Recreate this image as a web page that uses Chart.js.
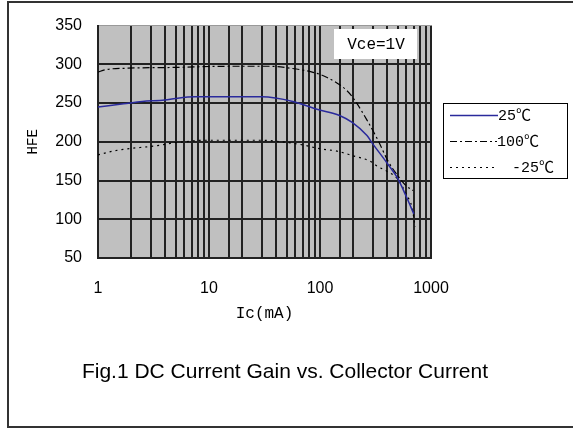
<!DOCTYPE html>
<html>
<head>
<meta charset="utf-8">
<script src="https://cdn.jsdelivr.net/npm/chart.js@4.4.1/dist/chart.umd.min.js"></script>
<style>
  body { margin: 0; background: #fff; }
  #wrap { width: 573px; height: 430px; }
</style>
</head>
<body>
<div id="wrap"><canvas id="myCanvas" width="573" height="430"></canvas></div>
<script>
// values
var seriesNames = ['25℃', '100℃', '-25℃'];
var xTicks = [1, 10, 100, 1000];
var yTicks = [50, 100, 150, 200, 250, 300, 350];

var ic25  = [1, 1.7, 2.5, 4, 5, 7.5, 30, 57, 94, 150, 195, 265, 300, 400, 500, 600, 700];
var hfe25 = [245, 249, 252, 254, 256, 258, 258, 252, 242, 234, 225, 208, 197, 173, 153, 129, 107];

var ic100  = [1, 1.16, 1.86, 4.9, 14.8, 35.5, 53.7, 85, 116, 175, 207, 265, 333, 410, 504, 600, 690];
var hfe100 = [290, 293, 295, 296, 297.5, 297.5, 295, 290, 283, 266, 253, 228, 202, 175, 156, 143, 137];

var icM25  = [1, 1.36, 2, 2.8, 4, 4.9, 6.1, 8.7, 30, 45, 70, 100, 142, 198, 282, 333, 400, 500, 600, 675, 720];
var hfeM25 = [183, 188, 191.5, 193.6, 196.6, 199, 200, 202, 202, 200, 196, 191, 188, 182, 175, 168, 162, 152, 132, 115, 90];

function pts(xs, ys) {
	var out = [];
	for (var i in xs) out.push({x: xs[i], y: ys[i]});
	return out;
}

var monoFont = "'Liberation Mono', 'Noto Sans CJK SC', monospace";

var framePlugin = {
	id: 'frame',
	beforeDraw: function(chart) {
		var ctx = chart.ctx, a = chart.chartArea;
		ctx.save();
		ctx.fillStyle = '#fff';
		ctx.fillRect(0, 0, chart.width, chart.height);
		ctx.fillStyle = '#c0c0c0';
		ctx.fillRect(a.left, a.top, a.right - a.left, a.bottom - a.top);
		ctx.strokeStyle = '#333';
		ctx.lineWidth = 2;
		ctx.strokeRect(8, 2, 620, 425);
		ctx.restore();
	},
	afterDraw: function(chart) {
		var ctx = chart.ctx;
		ctx.save();
		// Vce box
		ctx.fillStyle = '#fff';
		ctx.fillRect(334, 29, 83, 30);
		ctx.fillStyle = '#000';
		ctx.font = '16px ' + monoFont;
		ctx.textAlign = 'center';
		ctx.textBaseline = 'middle';
		ctx.fillText('Vce=1V', 376, 45);

		// legend
		ctx.fillStyle = '#fff';
		ctx.fillRect(443, 103, 124, 75);
		ctx.strokeStyle = '#000';
		ctx.lineWidth = 1;
		ctx.strokeRect(443.5, 103.5, 124, 75);
		var rows = [115, 141, 167];
		var textX = [498, 497, 512];
		var sampleEnd = [498, 497, 494];
		chart.data.datasets.forEach(function(ds, i) {
			ctx.strokeStyle = ds.borderColor;
			ctx.lineWidth = ds.borderWidth;
			ctx.setLineDash(ds.borderDash || []);
			ctx.beginPath();
			ctx.moveTo(450, rows[i] + 0.5);
			ctx.lineTo(sampleEnd[i], rows[i] + 0.5);
			ctx.stroke();
			ctx.setLineDash([]);
			ctx.fillStyle = '#000';
			ctx.font = '15px ' + monoFont;
			ctx.textAlign = 'left';
			ctx.textBaseline = 'middle';
			ctx.fillText(ds.label, textX[i], rows[i] + 1);
		});

		// caption
		ctx.fillStyle = '#000';
		ctx.font = "21px 'Liberation Sans', Arial, sans-serif";
		ctx.textAlign = 'center';
		ctx.textBaseline = 'alphabetic';
		ctx.fillText('Fig.1 DC Current Gain vs. Collector Current', 285, 378);
		ctx.restore();
	}
};

var chartdata = {
	datasets: [
	{
		label: seriesNames[0],
		data: pts(ic25, hfe25),
		borderColor: '#2a2a9c',
		borderWidth: 1.5,
		pointRadius: 0,
		cubicInterpolationMode: 'monotone'
	},
	{
		label: seriesNames[1],
		data: pts(ic100, hfe100),
		borderColor: '#000',
		borderWidth: 1.2,
		borderDash: [7, 3, 2, 3],
		pointRadius: 0,
		cubicInterpolationMode: 'monotone'
	},
	{
		label: seriesNames[2],
		data: pts(icM25, hfeM25),
		borderColor: '#000',
		borderWidth: 1.2,
		borderDash: [2, 4],
		pointRadius: 0,
		cubicInterpolationMode: 'monotone'
	}
	]
};

var ctx = document.getElementById('myCanvas');
var chart = new Chart(ctx, {
	type: 'line',
	data: chartdata,
	options: {
		responsive: false,
		animation: false,
		layout: { padding: { left: 0, top: 22, right: 142, bottom: 102 } },
		plugins: { legend: { display: false }, tooltip: { enabled: false } },
		scales: {
			x: {
				type: 'logarithmic',
				min: xTicks[0],
				max: xTicks[xTicks.length - 1],
				afterFit: function(s) { s.height = 70; },
				grid: { color: '#222', lineWidth: 2, drawTicks: false },
				border: { color: '#222', width: 2 },
				ticks: {
					autoSkip: false,
					maxRotation: 0,
					padding: 21,
					color: '#000',
					font: { family: "'Liberation Sans', Arial, sans-serif", size: 16 },
					callback: function(v) { return xTicks.indexOf(v) >= 0 ? String(v) : ''; }
				},
				title: {
					display: true,
					text: 'Ic(mA)',
					color: '#000',
					font: { family: monoFont, size: 16 },
					padding: { top: 0, bottom: 5 }
				}
			},
			y: {
				min: yTicks[0],
				max: yTicks[yTicks.length - 1],
				afterFit: function(s) { s.width = 98; },
				grid: {
					color: function(c) { return c.tick && c.tick.value === 350 ? '#999' : '#222'; },
					lineWidth: function(c) { return c.tick && c.tick.value === 350 ? 1 : 2; },
					drawTicks: false
				},
				border: { color: '#222', width: 2 },
				ticks: {
					stepSize: 50,
					padding: 16,
					color: '#000',
					font: { family: "'Liberation Sans', Arial, sans-serif", size: 16 }
				},
				title: {
					display: true,
					text: 'HFE',
					color: '#000',
					font: { family: monoFont, size: 14 },
					padding: { top: 25, bottom: 0 }
				}
			}
		}
	},
	plugins: [framePlugin]
});
</script>
</body>
</html>
